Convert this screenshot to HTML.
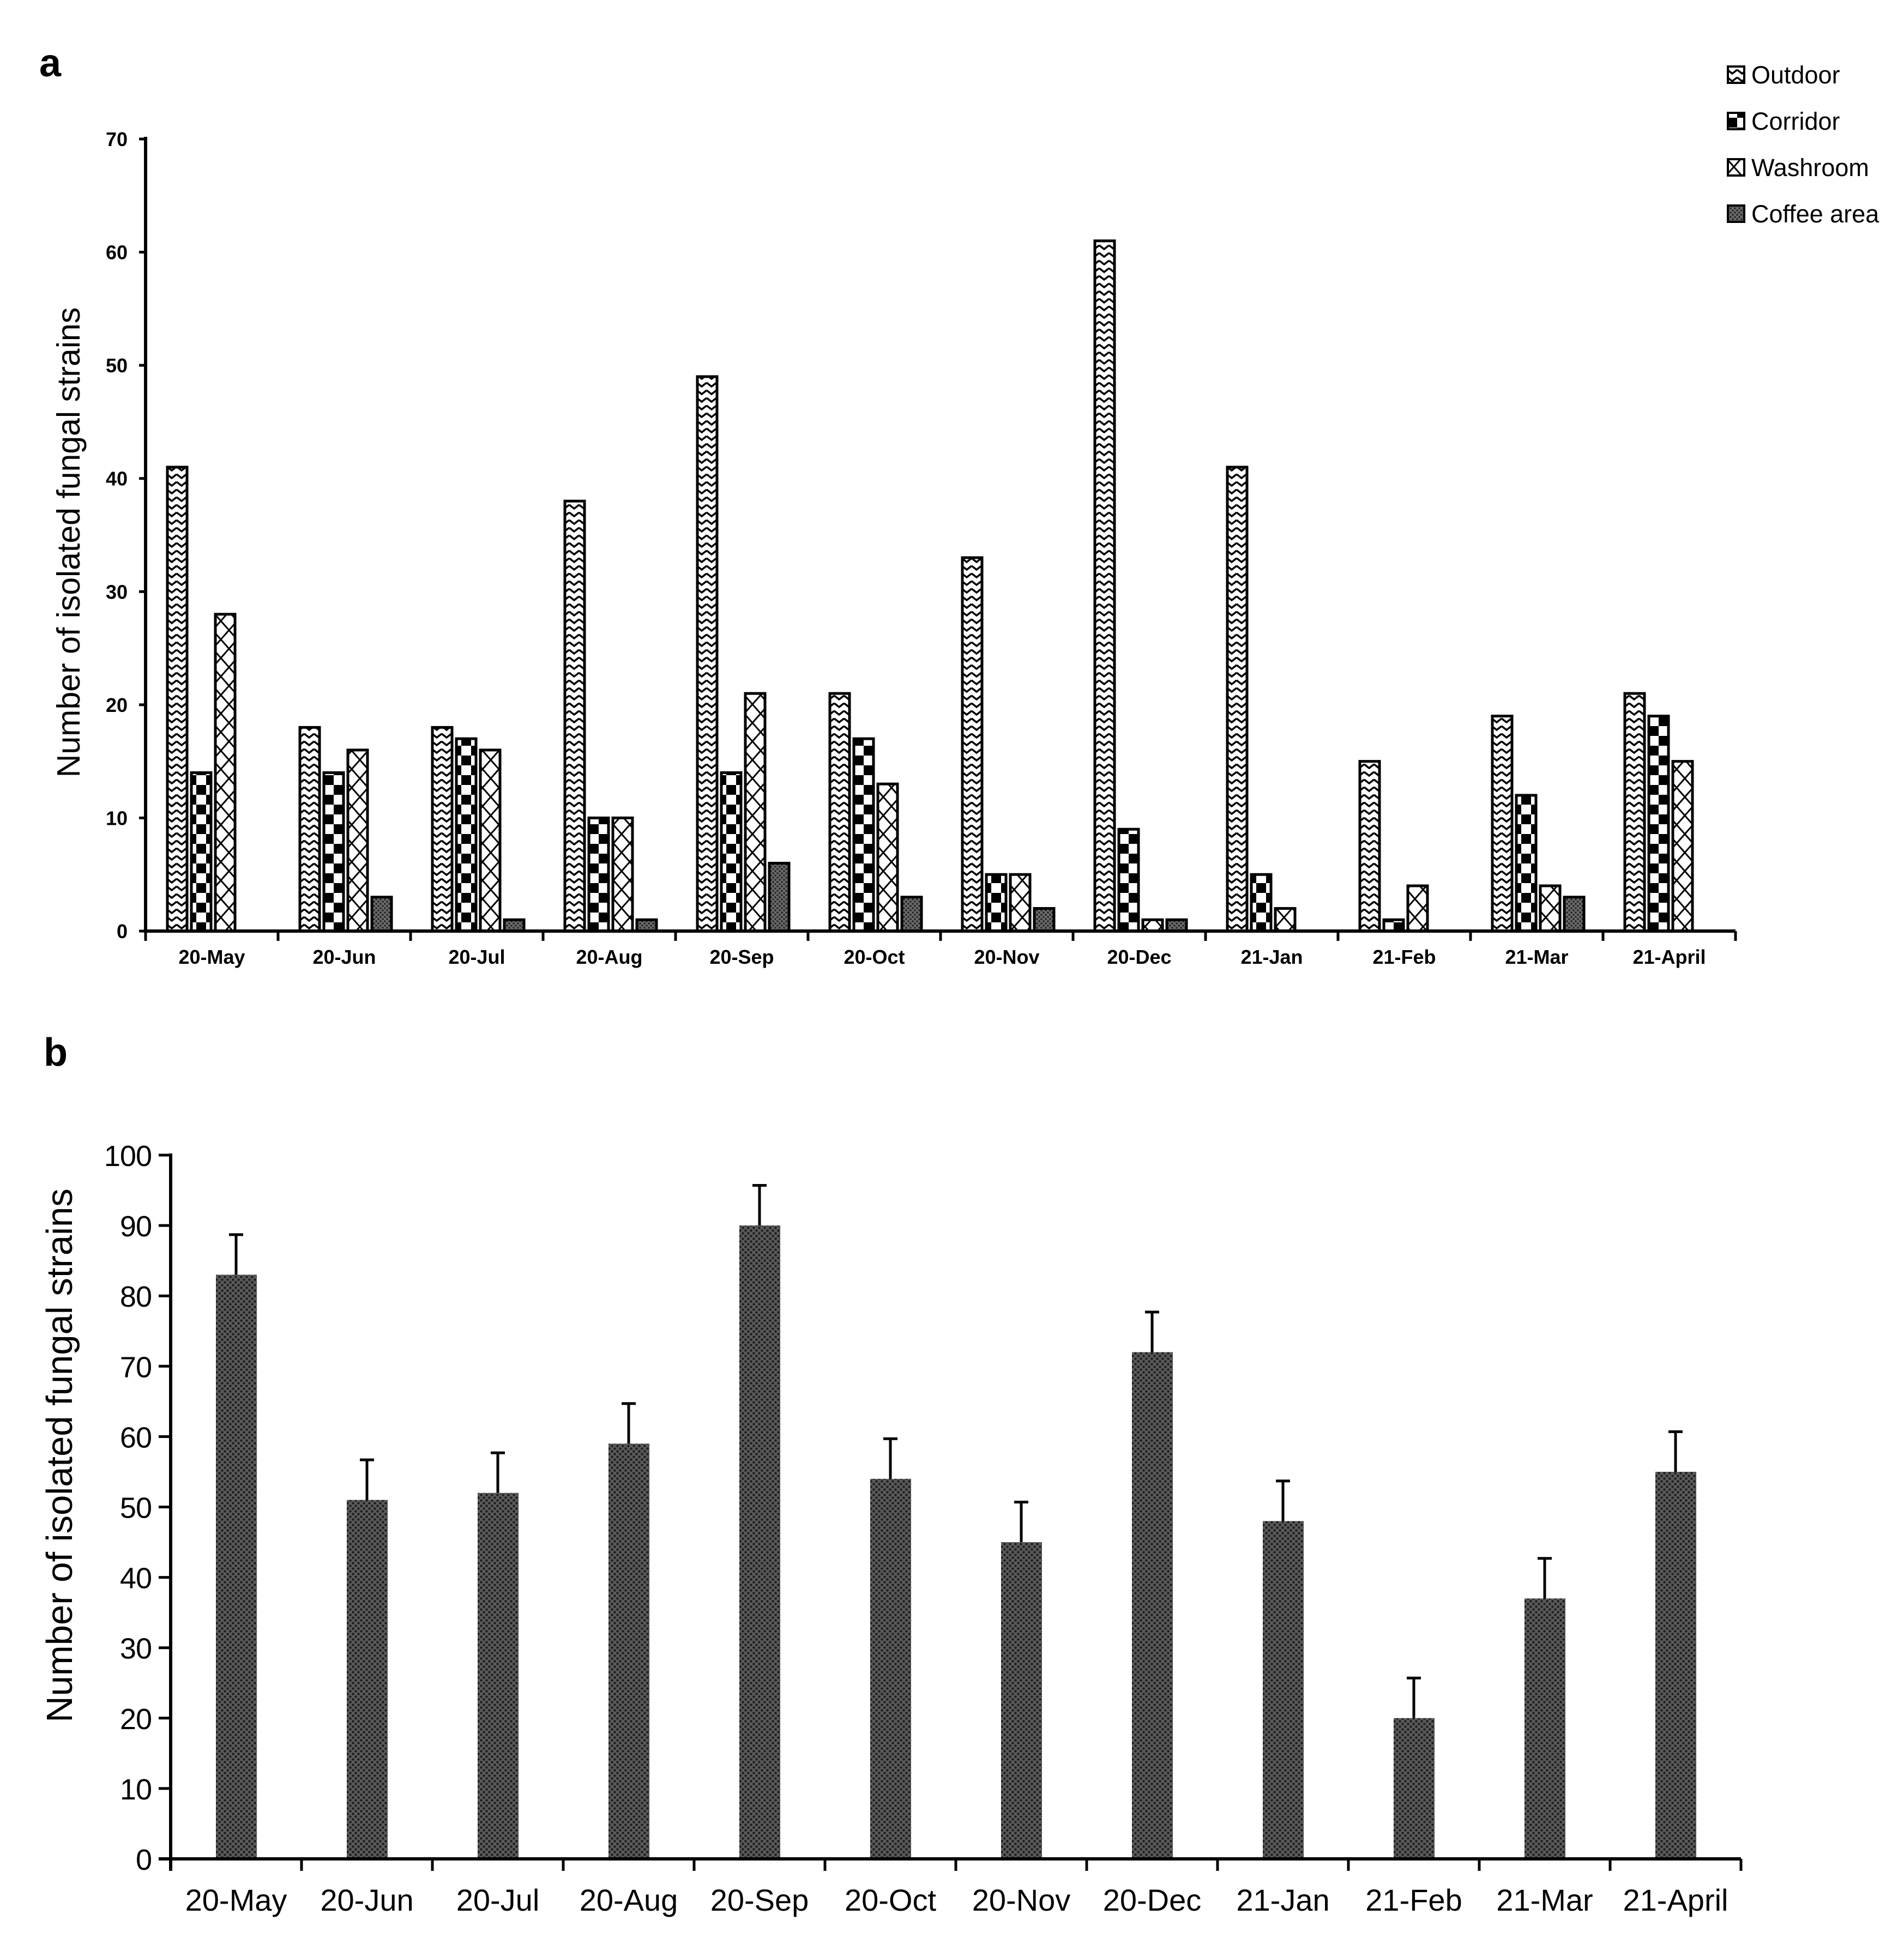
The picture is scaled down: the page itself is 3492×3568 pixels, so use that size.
<!DOCTYPE html>
<html><head><meta charset="utf-8"><style>
html,body{margin:0;padding:0;background:#fff;}
svg{display:block;}
</style></head><body>
<svg id="fig" xmlns="http://www.w3.org/2000/svg" width="3492" height="3568" viewBox="0 0 3492 3568">
<defs>
<pattern id="pOut" patternUnits="userSpaceOnUse" width="18" height="14">
<rect width="18" height="14" fill="#fff"/>
<path d="M0,2 L9,9 L18,2" fill="none" stroke="#000" stroke-width="3.5"/>
</pattern>
<pattern id="pCor" patternUnits="userSpaceOnUse" width="36" height="36" x="0" y="0">
<rect width="36" height="36" fill="#fff"/>
<rect x="0" y="0" width="18" height="18" fill="#000"/>
<rect x="18" y="18" width="18" height="18" fill="#000"/>
</pattern>
<pattern id="pWash" patternUnits="userSpaceOnUse" width="30" height="34">
<rect width="30" height="34" fill="#fff"/>
<path d="M0,0 L30,34 M30,0 L0,34" stroke="#000" stroke-width="3"/>
</pattern>
<pattern id="pCof" patternUnits="userSpaceOnUse" width="8" height="8">
<rect width="8" height="8" fill="#6a6a6a"/>
<circle cx="2" cy="2" r="1.8" fill="#222"/>
<circle cx="6" cy="6" r="1.8" fill="#222"/>
</pattern>
<pattern id="pB" patternUnits="userSpaceOnUse" width="10" height="10">
<rect width="10" height="10" fill="#5a5a5a"/>
<circle cx="2.5" cy="2.5" r="2.3" fill="#1e1e1e"/>
<circle cx="7.5" cy="7.5" r="2.3" fill="#1e1e1e"/>
</pattern>
</defs>
<g id="chartA"></g>
<g id="chartB"></g>
</svg>
<script>
const categories = ["20-May","20-Jun","20-Jul","20-Aug","20-Sep","20-Oct","20-Nov","20-Dec","21-Jan","21-Feb","21-Mar","21-April"];
const outdoor = [41,18,18,38,49,21,33,61,41,15,19,21];
const corridor = [14,14,17,10,14,17,5,9,5,1,12,19];
const washroom = [28,16,16,10,21,13,5,1,2,4,4,15];
const coffee = [0,3,1,1,6,3,2,1,0,0,3,0];
const seriesNames = ["Outdoor","Corridor","Washroom","Coffee area"];
const yTicksA = [0,10,20,30,40,50,60,70];
const totals = [83,51,52,59,90,54,45,72,48,20,37,55];
const errors = [5.7,5.7,5.7,5.7,5.7,5.7,5.7,5.7,5.7,5.7,5.7,5.7];
const yTicksB = [0,10,20,30,40,50,60,70,80,90,100];

const NS = "http://www.w3.org/2000/svg";
function mk(tag, attrs, parent, text){
  const e = document.createElementNS(NS, tag);
  for (const k in attrs) e.setAttribute(k, attrs[k]);
  if (text !== undefined) e.textContent = text;
  parent.appendChild(e);
  return e;
}

// ---------- Chart A ----------
const A = document.getElementById('chartA');
const ax0 = 267, ax1 = 3183, ay0 = 1708, ay70 = 255;
const aGroup = (ax1 - ax0) / 12;
function yA(v){ return ay0 - (ay0 - ay70) * v / 70; }
function xA(i, s){ return ax0 + aGroup * i + 40 + s * 44; }
const fills = ["url(#pOut)","url(#pCor)","url(#pWash)","url(#pCof)"];
const allSeries = [outdoor, corridor, washroom, coffee];
allSeries.forEach((ser, s) => {
  ser.forEach((v, i) => {
    if (v <= 0) return;
    const r = mk('rect', {x: xA(i, s), y: yA(v), width: 36, height: ay0 - yA(v), fill: fills[s], stroke: '#000', 'stroke-width': 5}, A);
    
    
  });
});
let l = mk('line', {x1: ax0, y1: ay70 - 4, x2: ax0, y2: ay0 + 2, stroke: '#000', 'stroke-width': 6}, A);


l = mk('line', {x1: ax0 - 3, y1: ay0, x2: ax1, y2: ay0, stroke: '#000', 'stroke-width': 6}, A);


yTicksA.forEach(t => {
  const tk = mk('line', {x1: ax0 - 12, y1: yA(t), x2: ax0, y2: yA(t), stroke: '#000', 'stroke-width': 5}, A);
  
  
  const tx = mk('text', {x: 234, y: yA(t) + 13, 'text-anchor': 'end', 'font-family': 'Liberation Sans Narrow, Liberation Sans, sans-serif', 'font-weight': 'bold', 'font-size': 36}, A, String(t));
  
  
});
for (let i = 0; i <= 12; i++) {
  const tk = mk('line', {x1: ax0 + aGroup * i, y1: ay0, x2: ax0 + aGroup * i, y2: ay0 + 18, stroke: '#000', 'stroke-width': 5}, A);
  
  
}
categories.forEach((c, i) => {
  const tx = mk('text', {x: ax0 + aGroup * (i + 0.5), y: 1768, 'text-anchor': 'middle', 'font-family': 'Liberation Sans Narrow, Liberation Sans, sans-serif', 'font-weight': 'bold', 'font-size': 36}, A, c);
  
  
});
let t = mk('text', {x: 0, y: 0, transform: 'translate(146,995) rotate(-90)', 'text-anchor': 'middle', 'font-family': 'Liberation Sans, sans-serif', 'font-size': 59}, A, 'Number of isolated fungal strains');


t = mk('text', {x: 72, y: 140, 'font-family': 'Liberation Sans, sans-serif', 'font-weight': 'bold', 'font-size': 72}, A, 'a');


seriesNames.forEach((n, s) => {
  const cy = 137 + 85 * s;
  const g = mk('g', {}, A);
  
  
  mk('rect', {x: 3169, y: cy - 15, width: 30, height: 30, fill: fills[s], stroke: '#000', 'stroke-width': 4}, g);
  mk('text', {x: 3212, y: cy + 16, 'font-family': 'Liberation Sans, sans-serif', 'font-size': 45}, g, n);
});

// ---------- Chart B ----------
const B = document.getElementById('chartB');
const bx0 = 313, bx1 = 3193, by0 = 3410, by100 = 2119;
const bGroup = (bx1 - bx0) / 12;
function yB(v){ return by0 - (by0 - by100) * v / 100; }
function xB(i){ return bx0 + bGroup * (i + 0.5); }
totals.forEach((v, i) => {
  const r = mk('rect', {x: xB(i) - 37, y: yB(v), width: 75, height: by0 - yB(v), fill: 'url(#pB)'}, B);
  
  
  const e = mk('path', {d: 'M' + xB(i) + ',' + yB(v) + ' V' + yB(v + errors[i]) + ' M' + (xB(i) - 13) + ',' + yB(v + errors[i]) + ' H' + (xB(i) + 13), stroke: '#000', 'stroke-width': 5, fill: 'none'}, B);
  
  
});
l = mk('line', {x1: bx0, y1: by100 - 3, x2: bx0, y2: by0 + 22, stroke: '#000', 'stroke-width': 6}, B);


l = mk('line', {x1: bx0 - 22, y1: by0, x2: bx1, y2: by0, stroke: '#000', 'stroke-width': 6}, B);


yTicksB.forEach(tv => {
  const tk = mk('line', {x1: bx0 - 22, y1: yB(tv), x2: bx0, y2: yB(tv), stroke: '#000', 'stroke-width': 5}, B);
  
  
  const tx = mk('text', {x: 278, y: yB(tv) + 20, 'text-anchor': 'end', 'font-family': 'Liberation Sans, sans-serif', 'font-size': 54, 'letter-spacing': -1}, B, String(tv));
  
  
});
for (let i = 0; i <= 12; i++) {
  const tk = mk('line', {x1: bx0 + bGroup * i, y1: by0, x2: bx0 + bGroup * i, y2: by0 + 22, stroke: '#000', 'stroke-width': 5}, B);
  
  
}
categories.forEach((c, i) => {
  const tx = mk('text', {x: xB(i), y: 3505, 'text-anchor': 'middle', 'font-family': 'Liberation Sans, sans-serif', 'font-size': 56}, B, c);
  
  
});
t = mk('text', {x: 0, y: 0, transform: 'translate(132,2670) rotate(-90)', 'text-anchor': 'middle', 'font-family': 'Liberation Sans, sans-serif', 'font-size': 67}, B, 'Number of isolated fungal strains');


t = mk('text', {x: 80, y: 1955, 'font-family': 'Liberation Sans, sans-serif', 'font-weight': 'bold', 'font-size': 72}, B, 'b');


</script>
</body></html>
